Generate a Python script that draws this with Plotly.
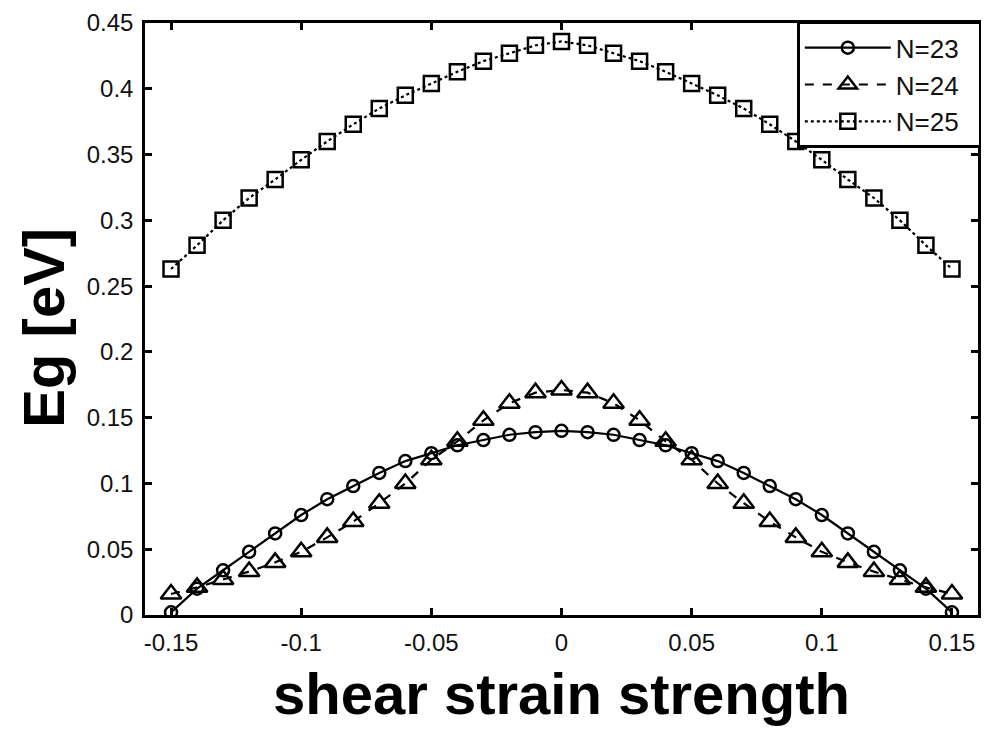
import plotly.graph_objects as go

strain = [round(-0.15 + 0.01 * i, 2) for i in range(31)]

eg_n23_half = [0.002, 0.020, 0.034, 0.048, 0.062, 0.076, 0.088, 0.098, 0.108, 0.117,
               0.123, 0.129, 0.133, 0.137, 0.139, 0.140]
eg_n24_half = [0.016, 0.021, 0.027, 0.033, 0.040, 0.048, 0.059, 0.071, 0.085, 0.100,
               0.118, 0.132, 0.148, 0.161, 0.169, 0.171]
eg_n25_half = [0.263, 0.281, 0.300, 0.317, 0.331, 0.346, 0.360, 0.373, 0.385, 0.395,
               0.404, 0.413, 0.421, 0.427, 0.433, 0.436]

eg_n23 = eg_n23_half + eg_n23_half[-2::-1]
eg_n24 = eg_n24_half + eg_n24_half[-2::-1]
eg_n25 = eg_n25_half + eg_n25_half[-2::-1]

series = [
    ("N=23", eg_n23, "solid", "circle-open", 12),
    ("N=24", eg_n24, "dash", "triangle-up-open", 18),
    ("N=25", eg_n25, "dot", "square-open", 15),
]

x_ticks = [-0.15, -0.1, -0.05, 0, 0.05, 0.1, 0.15]
x_ticklabels = ["-0.15", "-0.1", "-0.05", "0", "0.05", "0.1", "0.15"]
y_ticks = [0, 0.05, 0.1, 0.15, 0.2, 0.25, 0.3, 0.35, 0.4, 0.45]
y_ticklabels = ["0", "0.05", "0.1", "0.15", "0.2", "0.25", "0.3", "0.35", "0.4", "0.45"]

fig = go.Figure()
for name, vals, dash, sym, size in series:
    fig.add_trace(go.Scatter(
        x=strain, y=vals, name=name + "\u00a0\u00a0", mode="lines+markers",
        line=dict(color="black", width=2.2, dash=dash),
        marker=dict(symbol=sym, size=size, color="black", line=dict(width=2.5, color="black")),
    ))

tickfont = dict(family="Liberation Sans, Arial, sans-serif", size=24, color="#111")
axis_common = dict(
    showline=True, linecolor="black", linewidth=2.5, mirror="ticks",
    ticks="inside", ticklen=7, tickwidth=2.5, tickcolor="black",
    showgrid=False, zeroline=False, tickfont=tickfont,
)

fig.update_layout(
    width=988, height=729,
    margin=dict(l=145, r=10, t=23, b=114, autoexpand=False),
    paper_bgcolor="white", plot_bgcolor="white",
    xaxis=dict(range=[-0.16, 0.16], tickvals=x_ticks, ticktext=x_ticklabels,
               ticklabelstandoff=4, **axis_common),
    yaxis=dict(range=[0, 0.45], tickvals=y_ticks, ticktext=y_ticklabels,
               ticklabelstandoff=4, **axis_common),
    showlegend=True,
    legend=dict(x=1.004, y=1.002, xanchor="right", yanchor="top",
                bgcolor="white", bordercolor="black", borderwidth=2.5,
                font=dict(family="Liberation Sans, Arial, sans-serif", size=26, color="#111"),
                itemwidth=86, tracegroupgap=0),
    annotations=[
        dict(text="<b>shear strain strength</b>", xref="paper", yref="paper",
             x=0.5, y=-0.133, xanchor="center", yanchor="middle", showarrow=False,
             font=dict(family="Liberation Sans, Arial, sans-serif", size=58, color="black")),
        dict(text="<b>Eg [eV]</b>", xref="paper", yref="paper", textangle=-90,
             x=-0.122, y=0.486, xanchor="center", yanchor="middle", showarrow=False,
             font=dict(family="Liberation Sans, Arial, sans-serif", size=58, color="black")),
    ],
)

fig.write_html("out.html")
